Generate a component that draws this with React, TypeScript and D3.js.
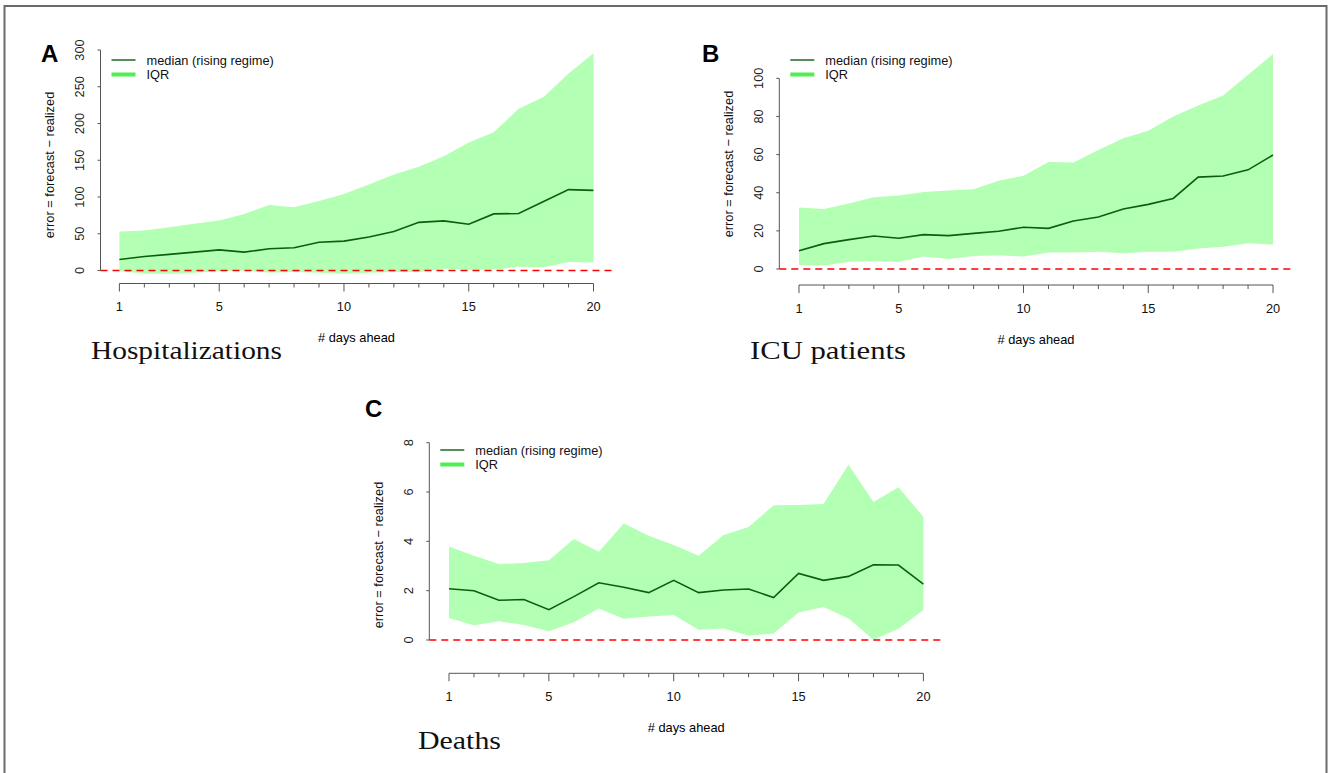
import React from "react";
import * as d3 from "d3";

// days ahead (x categories)
const days = [1, 2, 3, 4, 5, 6, 7, 8, 9, 10, 11, 12, 13, 14, 15, 16, 17, 18, 19, 20];
const xTickLabels = [1, 5, 10, 15, 20];

// A: hospitalizations
const hospMedian = [15, 19, 22, 25, 28, 25, 29.5, 31, 38.5, 40, 45.5, 53, 65.5, 67.5, 63, 77, 77.5, 94, 110, 109];
const hospUpper = [53, 54.5, 59, 63.5, 68, 77, 89, 86, 94.5, 104, 117, 130.5, 141, 155.5, 174, 188, 220, 236, 268, 295.5];
const hospLower = [-1, -4, -4.5, -3, -1, 0, -3, -2, -3, -4, -3, -2, -2, 2.5, 1, 1.5, 5, 4.5, 11.5, 11];
const hospTicks = [0, 50, 100, 150, 200, 250, 300];

// B: ICU patients
const icuMedian = [9.6, 13.3, 15.4, 17.3, 16.1, 18, 17.5, 18.7, 19.8, 21.9, 21.3, 25.2, 27.3, 31.5, 33.9, 37, 48.2, 48.8, 52, 59.8];
const icuUpper = [32.3, 31.5, 34.4, 37.6, 38.5, 40.4, 41.2, 41.8, 46.3, 48.9, 56.1, 55.9, 62.4, 68.5, 72.5, 80, 85.8, 91, 101.9, 112.7];
const icuLower = [2.1, 1.8, 3.8, 4, 3.8, 6.5, 5.2, 6.8, 7.2, 6.5, 8.7, 8.6, 9.1, 8.2, 9.1, 9.1, 10.8, 11.7, 13.5, 12.8];
const icuTicks = [0, 20, 40, 60, 80, 100];

// C: deaths
const deathMedian = [2.08, 2.0, 1.61, 1.64, 1.23, 1.76, 2.32, 2.14, 1.92, 2.42, 1.92, 2.03, 2.07, 1.72, 2.7, 2.42, 2.58, 3.05, 3.04, 2.27];
const deathUpper = [3.79, 3.42, 3.08, 3.12, 3.23, 4.1, 3.58, 4.72, 4.23, 3.85, 3.42, 4.26, 4.58, 5.46, 5.47, 5.51, 7.11, 5.6, 6.19, 4.99];
const deathLower = [0.89, 0.6, 0.76, 0.61, 0.35, 0.72, 1.28, 0.86, 0.95, 1.01, 0.42, 0.47, 0.18, 0.26, 1.12, 1.34, 0.87, 0.01, 0.46, 1.22];
const deathTicks = [0, 2, 4, 6, 8];

const SANS = "'Liberation Sans', Arial, Helvetica, sans-serif";
const SERIF = "'Liberation Serif', 'Times New Roman', serif";
const AXIS = "#555";
const FS = 12.8;

type PanelProps = {
  letter: string;
  letterX: number;
  letterY: number;
  label: string;
  labelX: number;
  labelY: number;
  labelW: number;
  median: number[];
  upper: number[];
  lower: number[];
  ticks: number[];
  axisX: number; // y axis position
  x1: number; // pixel of day 1
  x20: number; // pixel of day 20
  yZero: number;
  yMaxPx: number; // pixel of the last tick
  xAxisY: number;
  titleY: number;
  legendY: number;
};

function Panel(p: PanelProps) {
  const x = d3.scaleLinear().domain([1, 20]).range([p.x1, p.x20]);
  const yMax = p.ticks[p.ticks.length - 1];
  const y = d3.scaleLinear().domain([0, yMax]).range([p.yZero, p.yMaxPx]);

  const rows = days.map((d, i) => ({ d, m: p.median[i], lo: p.lower[i], hi: p.upper[i] }));
  const area = d3
    .area<any>()
    .x((r) => x(r.d))
    .y0((r) => y(r.lo))
    .y1((r) => y(r.hi));
  const line = d3
    .line<any>()
    .x((r) => x(r.d))
    .y((r) => y(r.m));

  const pad = p.x1 - p.axisX;
  const midX = (p.x1 + p.x20) / 2;

  return (
    <g>
      <text x={p.letterX} y={p.letterY} fontFamily={SANS} fontWeight="bold" fontSize={24} fill="#000">
        {p.letter}
      </text>

      <path d={area(rows) || ""} fill="#b3ffb3" />
      <line
        x1={p.axisX}
        x2={p.x20 + pad}
        y1={y(0)}
        y2={y(0)}
        stroke="#ff0000"
        strokeWidth={1.5}
        strokeDasharray="7 5"
      />
      <path d={line(rows) || ""} fill="none" stroke="#0b5e0b" strokeWidth={1.6} />

      {/* y axis */}
      <line x1={p.axisX} x2={p.axisX} y1={y(0)} y2={y(yMax)} stroke={AXIS} />
      {p.ticks.map((t) => (
        <g key={t}>
          <line x1={p.axisX - 3} x2={p.axisX} y1={y(t)} y2={y(t)} stroke={AXIS} />
          <text
            transform={`translate(${p.axisX - 21},${y(t)}) rotate(-90)`}
            textAnchor="middle"
            dominantBaseline="central"
            fontFamily={SANS}
            fontSize={FS}
            fill="#222"
          >
            {t}
          </text>
        </g>
      ))}
      <text
        transform={`translate(${p.axisX - 51},${p.titleY}) rotate(-90)`}
        textAnchor="middle"
        dominantBaseline="central"
        fontFamily={SANS}
        fontSize={FS}
        fill="#111"
      >
        error = forecast − realized
      </text>

      {/* x axis */}
      <line x1={p.x1} x2={p.x20} y1={p.xAxisY} y2={p.xAxisY} stroke={AXIS} />
      {days.map((d) => (
        <line
          key={d}
          x1={x(d)}
          x2={x(d)}
          y1={p.xAxisY}
          y2={p.xAxisY + (xTickLabels.includes(d) ? 8 : 4)}
          stroke={AXIS}
        />
      ))}
      {xTickLabels.map((d) => (
        <text
          key={d}
          x={x(d)}
          y={p.xAxisY + 23}
          textAnchor="middle"
          dominantBaseline="central"
          fontFamily={SANS}
          fontSize={FS}
          fill="#111"
        >
          {d}
        </text>
      ))}
      <text
        x={midX}
        y={p.xAxisY + 54}
        textAnchor="middle"
        dominantBaseline="central"
        fontFamily={SANS}
        fontSize={FS}
        fill="#000"
      >
        # days ahead
      </text>

      {/* legend */}
      <line x1={p.axisX + 11} x2={p.axisX + 35} y1={p.legendY} y2={p.legendY} stroke="#0b5e0b" strokeWidth={1.4} />
      <line
        x1={p.axisX + 11}
        x2={p.axisX + 35}
        y1={p.legendY + 14.5}
        y2={p.legendY + 14.5}
        stroke="#50ee50"
        strokeWidth={4}
      />
      <text x={p.axisX + 46} y={p.legendY} dominantBaseline="central" fontFamily={SANS} fontSize={FS} fill="#111">
        median (rising regime)
      </text>
      <text
        x={p.axisX + 46}
        y={p.legendY + 14.5}
        dominantBaseline="central"
        fontFamily={SANS}
        fontSize={FS}
        fill="#111"
      >
        IQR
      </text>

      <text
        x={p.labelX}
        y={p.labelY}
        fontFamily={SERIF}
        fontSize={26}
        fill="#111"
        textLength={p.labelW}
        lengthAdjust="spacingAndGlyphs"
      >
        {p.label}
      </text>
    </g>
  );
}

export default function App() {
  return (
    <svg
      width={1328}
      height={773}
      style={{ position: "absolute", left: 0, top: 0, background: "#fff" }}
    >
      <rect x={4.5} y={6} width={1322} height={800} fill="#fff" stroke="#6a6a6a" strokeWidth={2} />
      <Panel
        letter="A"
        letterX={41}
        letterY={62}
        label="Hospitalizations"
        labelX={91}
        labelY={358.5}
        labelW={191}
        median={hospMedian}
        upper={hospUpper}
        lower={hospLower}
        ticks={hospTicks}
        axisX={100.5}
        x1={119.4}
        x20={593.5}
        yZero={270.5}
        yMaxPx={50}
        xAxisY={283.5}
        titleY={165}
        legendY={60}
      />
      <Panel
        letter="B"
        letterX={702}
        letterY={62}
        label="ICU patients"
        labelX={750}
        labelY={358.5}
        labelW={156}
        median={icuMedian}
        upper={icuUpper}
        lower={icuLower}
        ticks={icuTicks}
        axisX={779.3}
        x1={799}
        x20={1273}
        yZero={269}
        yMaxPx={78.3}
        xAxisY={285}
        titleY={164}
        legendY={60}
      />
      <Panel
        letter="C"
        letterX={365}
        letterY={417}
        label="Deaths"
        labelX={418}
        labelY={749}
        labelW={83}
        median={deathMedian}
        upper={deathUpper}
        lower={deathLower}
        ticks={deathTicks}
        axisX={429.3}
        x1={449}
        x20={923.4}
        yZero={640}
        yMaxPx={442.7}
        xAxisY={673.3}
        titleY={555}
        legendY={450}
      />
    </svg>
  );
}
